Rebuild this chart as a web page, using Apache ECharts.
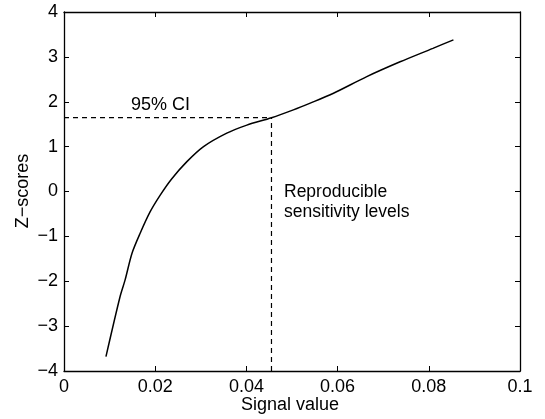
<!DOCTYPE html>
<html>
<head>
<meta charset="utf-8">
<script src="https://cdn.jsdelivr.net/npm/echarts@6/dist/echarts.min.js"></script>
<style>html,body{margin:0;padding:0;background:#fff}#c{width:545px;height:419px}</style>
</head>
<body>
<div id="c"></div>
<script>
var signalValues = [0.0092, 0.0123, 0.0134, 0.0149, 0.0167, 0.0189, 0.0211, 0.0236, 0.0269, 0.0306, 0.0357, 0.0401, 0.0455, 0.0503, 0.0540, 0.0591, 0.0664, 0.0737, 0.0809, 0.0854];
var zScores = [-3.68, -2.34, -1.97, -1.38, -0.93, -0.45, -0.08, 0.28, 0.66, 1.00, 1.30, 1.48, 1.645, 1.82, 1.97, 2.19, 2.56, 2.89, 3.19, 3.38];
var ciLevel = 1.645;
var ciSignal = 0.0455;
var xTicks = [0, 0.02, 0.04, 0.06, 0.08, 0.1];
var yTicks = [-4, -3, -2, -1, 0, 1, 2, 3, 4];

var FONT = 'Liberation Sans, Arial, Helvetica, sans-serif';
var FS = 18;
var chart = echarts.init(document.getElementById('c'), null, {renderer: 'canvas'});
function fmtY(v){ return v < 0 ? '\u2212' + Math.abs(v) : String(v); }
var axisLine = {show: true, onZero: false, lineStyle: {color: '#000', width: 1.3}};
var tick = {show: true, inside: true, length: 5, lineStyle: {color: '#000', width: 1}};
var curve = signalValues.map(function(x, i){ return [x, zScores[i]]; });
chart.setOption({
  animation: false,
  backgroundColor: '#fff',
  grid: {left: 64, right: 25, top: 12, bottom: 48, containLabel: false},
  xAxis: [
    {type: 'value', min: xTicks[0], max: xTicks[xTicks.length-1], interval: 0.02, position: 'bottom',
     axisLine: axisLine, axisTick: tick, splitLine: {show: false},
     axisLabel: {color: '#000', fontSize: FS, fontFamily: FONT, margin: 7, formatter: function(v){ return String(+v.toFixed(2)); }}},
    {type: 'value', min: xTicks[0], max: xTicks[xTicks.length-1], interval: 0.02, position: 'top',
     axisLine: axisLine, axisTick: tick, splitLine: {show: false}, axisLabel: {show: false}}
  ],
  yAxis: [
    {type: 'value', min: yTicks[0], max: yTicks[yTicks.length-1], interval: 1, position: 'left',
     axisLine: axisLine, axisTick: tick, splitLine: {show: false},
     axisLabel: {color: '#000', fontSize: FS, fontFamily: FONT, margin: 6, formatter: fmtY}},
    {type: 'value', min: yTicks[0], max: yTicks[yTicks.length-1], interval: 1, position: 'right',
     axisLine: axisLine, axisTick: tick, splitLine: {show: false}, axisLabel: {show: false}}
  ],
  series: [
    {type: 'line', data: curve, showSymbol: false, smooth: 0.3, lineStyle: {color: '#000', width: 1.5}},
    {type: 'line', data: [[xTicks[0], ciLevel], [ciSignal, ciLevel]], showSymbol: false,
     lineStyle: {color: '#000', width: 1.2, type: [5, 4]}},
    {type: 'line', data: [[ciSignal, yTicks[0]], [ciSignal, ciLevel]], showSymbol: false,
     lineStyle: {color: '#000', width: 1.2, type: [5, 4]}}
  ],
  graphic: [
    {type: 'text', x: 131, y: 105, style: {text: '95% CI', font: FS + 'px ' + FONT, fill: '#000', verticalAlign: 'middle'}},
    {type: 'text', x: 284, y: 182, style: {text: 'Reproducible\nsensitivity levels', font: '17.5px ' + FONT, fill: '#000', lineHeight: 20, verticalAlign: 'top'}},
    {type: 'text', x: 290, y: 405, style: {text: 'Signal value', font: FS + 'px ' + FONT, fill: '#000', align: 'center', verticalAlign: 'middle'}},
    {type: 'text', x: 23, y: 191, rotation: Math.PI/2, style: {text: 'Z\u2212scores', font: FS + 'px ' + FONT, fill: '#000', align: 'center', verticalAlign: 'middle'}}
  ]
});
</script>
</body>
</html>
